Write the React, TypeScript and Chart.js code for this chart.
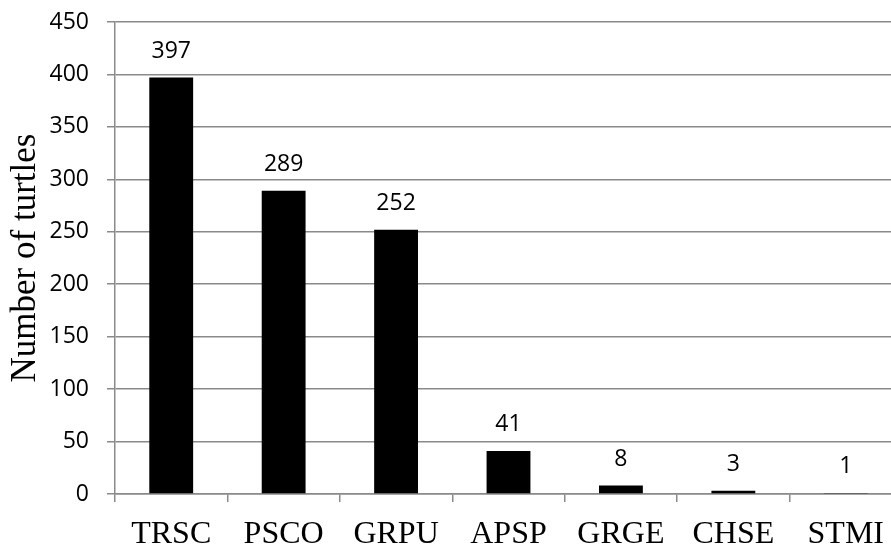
import React, { useEffect, useRef } from "react";
import { Chart, registerables } from "chart.js";

Chart.register(...registerables);

const categories = ["TRSC", "PSCO", "GRPU", "APSP", "GRGE", "CHSE", "STMI"];
const turtleCounts = [397, 289, 252, 41, 8, 3, 1];
const yTickMin = 0;
const yTickMax = 450;
const yTickStep = 50;

const GRID = "#8a8a8a";

const valueLabels = {
  id: "valueLabels",
  afterDatasetsDraw(chart: any) {
    const ctx = chart.ctx;
    const meta = chart.getDatasetMeta(0);
    ctx.save();
    ctx.font = '23px "Open Sans"';
    ctx.fillStyle = "#000";
    ctx.textAlign = "center";
    ctx.textBaseline = "alphabetic";
    meta.data.forEach((bar: any, i: number) => {
      ctx.fillText(String(turtleCounts[i]), bar.x, bar.y - 19.5);
    });
    ctx.restore();
  },
};

export default function App() {
  const ref = useRef<HTMLCanvasElement | null>(null);

  useEffect(() => {
    if (!ref.current) return;
    const chart = new Chart(ref.current, {
      type: "bar",
      data: {
        labels: categories,
        datasets: [
          {
            data: turtleCounts,
            backgroundColor: "#000",
            borderWidth: 0,
            barPercentage: 0.39,
            categoryPercentage: 1,
          },
        ],
      },
      options: {
        animation: false,
        responsive: true,
        maintainAspectRatio: false,
        layout: { padding: { top: 22, left: 0, right: 0, bottom: 0 } },
        plugins: {
          legend: { display: false },
          tooltip: { enabled: false },
          title: { display: false },
        },
        scales: {
          x: {
            offset: true,
            grid: {
              offset: true,
              drawOnChartArea: false,
              drawTicks: true,
              tickLength: 8,
              color: GRID,
              lineWidth: 1.5,
            },
            border: { display: true, color: GRID, width: 1.5 },
            ticks: {
              color: "#000",
              padding: 13,
              font: { family: '"Liberation Serif"', size: 32 },
              maxRotation: 0,
              autoSkip: false,
            },
            afterFit: (scale: any) => {
              scale.height = 54;
              scale.paddingLeft = 0;
              scale.paddingRight = 0;
            },
          },
          y: {
            min: yTickMin,
            max: yTickMax,
            grid: {
              color: GRID,
              lineWidth: 1.5,
              drawTicks: true,
              tickLength: 8,
            },
            border: { display: true, color: GRID, width: 1.5 },
            ticks: {
              stepSize: yTickStep,
              color: "#000",
              padding: 18,
              font: { family: '"Open Sans"', size: 23 },
            },
            title: {
              display: true,
              text: "Number of turtles",
              color: "#000",
              font: { family: '"Liberation Serif"', size: 35 },
              padding: { top: 5, bottom: 4 },
            },
            afterFit: (scale: any) => {
              scale.width = 115;
              scale.paddingTop = 8;
              scale.paddingBottom = 0;
            },
          },
        },
      },
      plugins: [valueLabels],
    });
    return () => chart.destroy();
  }, []);

  return (
    <div
      style={{
        position: "absolute",
        left: 0,
        top: 0,
        width: 891,
        height: 548,
        overflow: "hidden",
        background: "#fff",
      }}
    >
      <div style={{ position: "relative", width: 902, height: 548 }}>
        <canvas ref={ref} />
      </div>
    </div>
  );
}
